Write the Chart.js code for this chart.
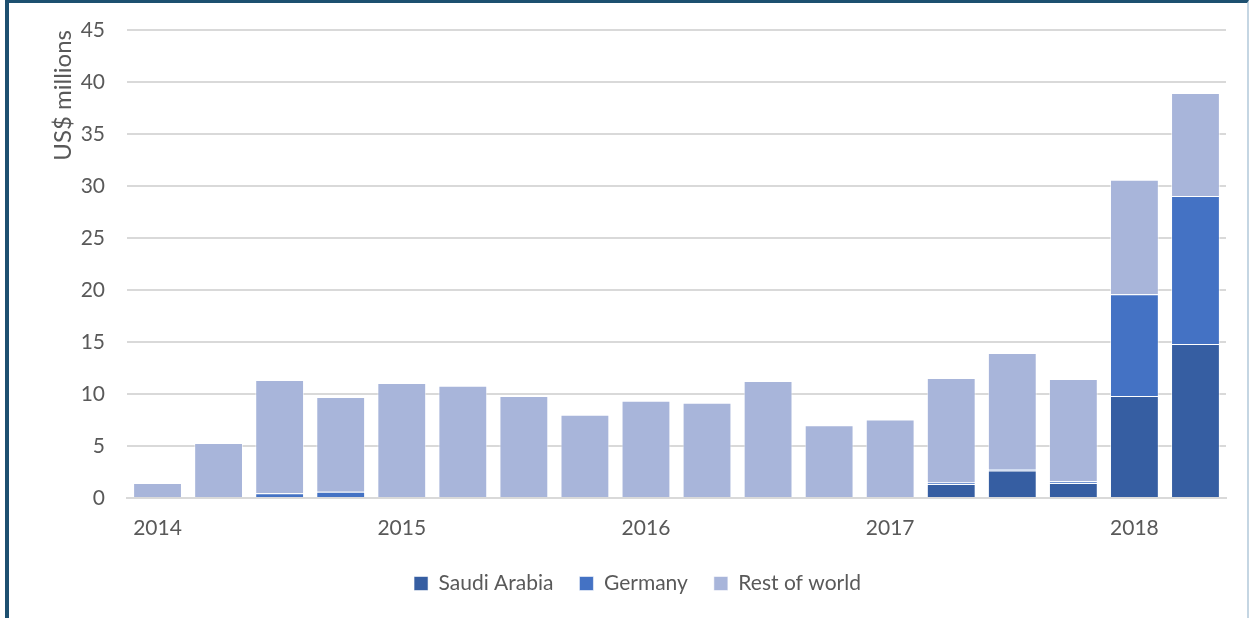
<!DOCTYPE html>
<html>
<head>
<meta charset="utf-8">
<script src="https://cdn.jsdelivr.net/npm/chart.js@4/dist/chart.umd.min.js"></script>
<style>
  html, body { margin: 0; padding: 0; background: #fff; }
  #wrap { position: relative; width: 1253px; height: 618px; overflow: hidden; }
  #frame { position: absolute; left: 5px; top: 0; width: 1244px; height: 640px;
           border-left: 4px solid #1d5070; border-top: 3px solid #1d5070;
           border-right: 2px solid #c5d6e3; box-sizing: border-box; }
  canvas { position: absolute; left: 0; top: 0; }
</style>
</head>
<body>
<div id="wrap">
  <div id="frame"></div>
  <canvas id="c" width="1253" height="618"></canvas>
</div>
<script>
const categories = ["2014","","","","2015","","","","2016","","","","2017","","","","2018",""];
const saudi = [0, 0, 0, 0, 0, 0, 0, 0, 0, 0, 0, 0, 0, 1.35, 2.65, 1.45, 9.8, 14.8];
const germany = [0, 0, 0.45, 0.6, 0, 0, 0, 0, 0, 0, 0, 0, 0, 0.15, 0.15, 0.15, 9.8, 14.25];
const restOfWorld = [1.45, 5.3, 10.9, 9.1, 11.05, 10.8, 9.8, 8.0, 9.35, 9.15, 11.25, 7.0, 7.55, 10.05, 11.15, 9.85, 11.0, 9.9];
const yTicks = [0, 5, 10, 15, 20, 25, 30, 35, 40, 45];

const FONT = "Lato, 'Open Sans', sans-serif";
const TXT = "#595959";

new Chart(document.getElementById('c'), {
  type: 'bar',
  data: {
    labels: categories,
    datasets: [
      { label: 'Saudi Arabia', data: saudi, backgroundColor: '#365ea2', borderColor: 'rgba(255,255,255,0.55)', borderWidth: 1 },
      { label: 'Germany', data: germany, backgroundColor: '#4472c4', borderColor: 'rgba(255,255,255,0.55)', borderWidth: 1 },
      { label: 'Rest of world', data: restOfWorld, backgroundColor: '#a8b5da', borderColor: 'rgba(255,255,255,0.55)', borderWidth: 1 }
    ]
  },
  options: {
    responsive: false,
    animation: false,
    devicePixelRatio: 1,
    layout: { padding: { left: 49, right: 27, top: 30, bottom: 14 } },
    datasets: { bar: { categoryPercentage: 0.8, barPercentage: 1.0 } },
    plugins: {
      tooltip: { enabled: false },
      legend: {
        position: 'bottom',
        labels: {
          font: { family: FONT, size: 21 },
          color: TXT,
          boxWidth: 14,
          boxHeight: 14,
          padding: 26,
          useBorderRadius: false
        }
      }
    },
    scales: {
      x: {
        stacked: true,
        grid: { display: false, drawTicks: false },
        border: { display: true, color: '#d9d9d9', width: 2 },
        afterFit(s) { s.height = 49; },
        ticks: {
          autoSkip: false, maxRotation: 0, minRotation: 0,
          font: { family: FONT, size: 21 }, color: TXT, padding: 18
        }
      },
      y: {
        stacked: true,
        min: 0, max: 45,
        afterBuildTicks(s) { s.ticks = yTicks.map(v => ({ value: v })); },
        afterFit(s) { s.width = 78; s.paddingTop = 0; s.paddingBottom = 0; },
        grid: { color: '#d9d9d9', lineWidth: 2, drawTicks: false },
        border: { display: false },
        ticks: { font: { family: FONT, size: 21 }, color: TXT, padding: 22 },
        title: {
          display: true, text: 'US$ millions', align: 'end',
          font: { family: FONT, size: 24 }, color: TXT,
          padding: { top: 0, bottom: 0 }
        }
      }
    }
  }
});
</script>
</body>
</html>
